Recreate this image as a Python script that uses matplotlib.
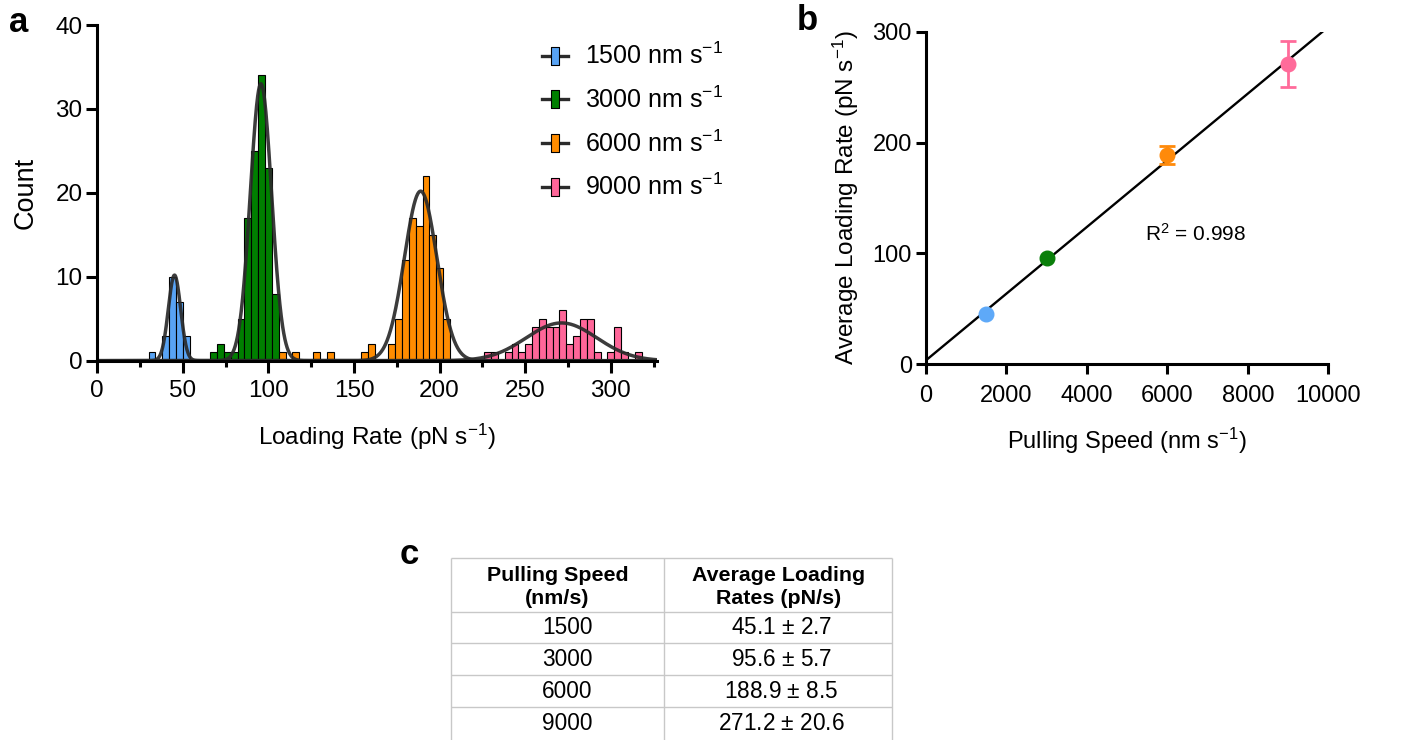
import numpy as np
import matplotlib
matplotlib.use('Agg')
import matplotlib.pyplot as plt
from matplotlib.lines import Line2D
from matplotlib.ticker import MultipleLocator

plt.rcParams['font.family'] = ['Liberation Sans', 'DejaVu Sans']
plt.rcParams['mathtext.fontset'] = 'custom'
plt.rcParams['mathtext.rm'] = 'Liberation Sans'
plt.rcParams['mathtext.it'] = 'Liberation Sans:italic'
plt.rcParams['mathtext.bf'] = 'Liberation Sans:bold'

# loading-rate histograms: left bin edges (pN/s, width 4) and counts per pulling speed
bin_w = 4
bins_1500 = [30, 38, 42, 46, 50]
counts_1500 = [1, 3, 10, 7, 3]
bins_3000 = [66, 70, 74, 78, 82, 86, 90, 94, 98, 102]
counts_3000 = [1, 2, 1, 1, 5, 17, 25, 34, 23, 8]
bins_6000 = [106, 114, 126, 134, 154, 158, 170, 174, 178, 182, 186, 190, 194, 198, 202]
counts_6000 = [1, 1, 1, 1, 1, 2, 2, 5, 12, 17, 16, 22, 15, 11, 5]
bins_9000 = [226, 230, 238, 242, 246, 250, 254, 258, 262, 266, 270, 274, 278, 282,
             286, 290, 298, 302, 306, 314]
counts_9000 = [1, 1, 1, 2, 1, 2, 4, 5, 4, 4, 6, 2, 3, 5, 5, 1, 1, 4, 1, 1]

# gaussian fits to each histogram: peak height, centre, width
fit_amp = [10.2, 33.0, 20.2, 4.5]
fit_mean = [45.1, 95.6, 188.9, 271.2]
fit_sd = [3.6, 6.2, 9.5, 20.6]

# average loading rate vs pulling speed
speeds = [1500, 3000, 6000, 9000]
avg_rate = [45.1, 95.6, 188.9, 271.2]
rate_err = [2.7, 5.7, 8.5, 20.6]
r2_text = 'R$^2$ = 0.998'

bar_colors = ['#58A3F4', '#007F00', '#FF8C00', '#FF6699']
dot_colors = ['#5EA9F8', '#0A7F0A', '#FF8A0A', '#FF6B9A']

all_bins = [bins_1500, bins_3000, bins_6000, bins_9000]
all_counts = [counts_1500, counts_3000, counts_6000, counts_9000]

W, H = 1419, 740
fig = plt.figure(figsize=(W / 100, H / 100), dpi=100)

# pixel-space layer for panel letters and the table
over = fig.add_axes([0, 0, 1, 1])
over.set_xlim(0, W)
over.set_ylim(H, 0)
over.set_axis_off()

spine_w = 2.2

# ---- a: histograms
ax = fig.add_axes([97.3 / W, 1 - 360.7 / H, (657 - 97.3) / W, (360.7 - 25) / H])
for b, c, col in zip(all_bins, all_counts, bar_colors):
    ax.bar(b, c, width=bin_w, align='edge', color=col, edgecolor='black',
           linewidth=0.8, zorder=2)
xs = np.linspace(0, 327, 2000)
for a, m, s in zip(fit_amp, fit_mean, fit_sd):
    ax.plot(xs, a * np.exp(-0.5 * ((xs - m) / s) ** 2), color='#2b2b2b', lw=2.5,
            alpha=0.92, zorder=3, solid_capstyle='round')
ax.set_xlim(0, 327)
ax.set_ylim(0, 40)
ax.xaxis.set_major_locator(MultipleLocator(50))
ax.xaxis.set_minor_locator(MultipleLocator(25))
ax.yaxis.set_major_locator(MultipleLocator(10))
for sp in ['top', 'right']:
    ax.spines[sp].set_visible(False)
for sp in ['left', 'bottom']:
    ax.spines[sp].set_linewidth(spine_w)
    ax.spines[sp].set_zorder(4)
ax.tick_params(axis='x', which='major', length=8.5, width=spine_w, labelsize=17.5, pad=5.5)
ax.tick_params(axis='y', which='major', length=7.7, width=spine_w, labelsize=17.5, pad=3)
ax.tick_params(axis='x', which='minor', length=4.5, width=spine_w)
ax.set_xlabel('Loading Rate (pN s$^{-1}$)', fontsize=17.5, labelpad=14)
ax.set_ylabel('Count', fontsize=19.5, labelpad=12)

rect = [(-0.22, -0.5), (0.22, -0.5), (0.22, 0.5), (-0.22, 0.5), (-0.22, -0.5)]
handles = [Line2D([], [], color='#2b2b2b', lw=2.4, marker=rect, markersize=12.7,
                  markerfacecolor=col, markeredgecolor='black', markeredgewidth=0.8)
           for col in bar_colors]
labels = ['%d nm s$^{-1}$' % s for s in speeds]
ax.legend(handles, labels, loc='upper left', bbox_to_anchor=(541.7, 43),
          bbox_transform=over.transData, frameon=False, fontsize=18,
          borderpad=0, borderaxespad=0, handlelength=1.07, handletextpad=0.65,
          labelspacing=0.69)

# ---- b: average loading rate vs pulling speed
bx = fig.add_axes([926 / W, 1 - 364 / H, 402.3 / W, 332 / H])
slope, icpt = np.polyfit(speeds, avg_rate, 1)
xl = np.array([0, 10000])
bx.plot(xl, slope * xl + icpt, color='black', lw=1.7, zorder=2)
dot_ms = 10.5
for x, y, e, c in zip(speeds, avg_rate, rate_err, dot_colors):
    # error bars shorter than the symbol radius are left out
    yerr = e if e > 6.6 else None
    bx.errorbar(x, y, yerr=yerr, fmt='o', color=c, ms=dot_ms, capsize=5.5,
                elinewidth=2, capthick=2, zorder=3)
bx.text(5450, 118, r2_text, fontsize=15, va='center')
bx.set_xlim(0, 10000)
bx.set_ylim(0, 300)
bx.xaxis.set_major_locator(MultipleLocator(2000))
bx.yaxis.set_major_locator(MultipleLocator(100))
for sp in ['top', 'right']:
    bx.spines[sp].set_visible(False)
for sp in ['left', 'bottom']:
    bx.spines[sp].set_linewidth(spine_w)
bx.tick_params(axis='x', which='major', length=7.2, width=spine_w, labelsize=17, pad=8)
bx.tick_params(axis='y', which='major', length=7.2, width=spine_w, labelsize=17, pad=3)
bx.set_xlabel('Pulling Speed (nm s$^{-1}$)', fontsize=17, labelpad=13.5)
bx.set_ylabel('Average Loading Rate (pN s$^{-1}$)', fontsize=17.5, labelpad=8)

# ---- panel letters
for letter, (px, py) in zip('abc', [(19, 23), (807, 21), (409, 555)]):
    over.text(px, py, letter, fontsize=25, fontweight='bold', ha='center', va='center')

# ---- c: summary table
tl, tm, tr = 450.7, 664, 892.3
row_lines = [558.3, 611.7, 643.3, 675, 706.7]
grid_col = '#c8c8c8'
over.hlines(row_lines, tl, tr, color=grid_col, lw=1)
over.vlines([tl, tm, tr], row_lines[0], H, color=grid_col, lw=1)

fs_head = 15.4
fs_body = 16.3
c1, c2 = (tl + tm) / 2, (tm + tr) / 2
over.text(c1, 575.5, 'Pulling Speed', fontsize=fs_head, fontweight='bold', ha='center', va='center')
over.text(c1, 598.5, '(nm/s)', fontsize=fs_head, fontweight='bold', ha='center', va='center')
over.text(c2, 575.5, 'Average Loading', fontsize=fs_head, fontweight='bold', ha='center', va='center')
over.text(c2, 598.5, 'Rates (pN/s)', fontsize=fs_head, fontweight='bold', ha='center', va='center')

row_mid = [628, 659.7, 691.4, 723]
for yy, s, m, e in zip(row_mid, speeds, avg_rate, rate_err):
    over.text(c1 + 10, yy, '%d' % s, fontsize=fs_body, ha='center', va='center')
    over.text(c2 + 3, yy, '%.1f $\\pm$ %.1f' % (m, e), fontsize=fs_body, ha='center', va='center')

fig.savefig('out.png', dpi=100)
